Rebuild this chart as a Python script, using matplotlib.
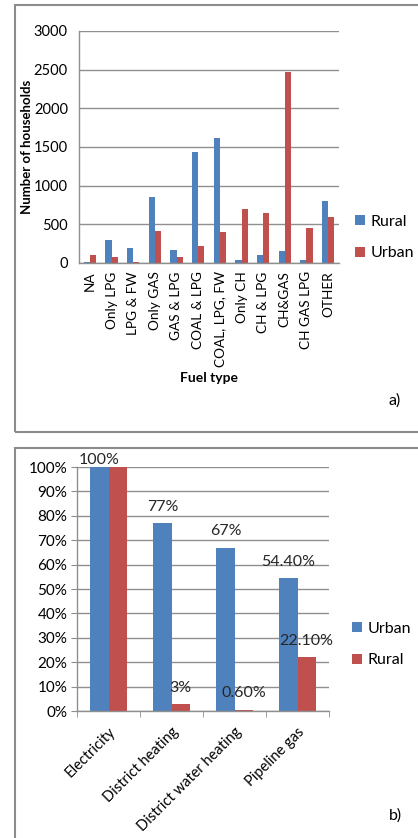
import numpy as np
import matplotlib.pyplot as plt
from matplotlib.patches import Rectangle
from matplotlib.ticker import FuncFormatter

# fuel use per household, panel a
fuel_types = ['NA', 'Only LPG', 'LPG & FW', 'Only GAS', 'GAS & LPG', 'COAL & LPG',
              'COAL, LPG, FW', 'Only CH', 'CH & LPG', 'CH&GAS', 'CH GAS LPG', 'OTHER']
rural_households = [17, 292, 193, 850, 172, 1435, 1619, 34, 103, 150, 43, 803]
urban_households = [103, 73, 13, 412, 82, 219, 399, 700, 644, 2470, 447, 597]

# access to energy services, panel b
services = ['Electricity', 'District heating', 'District water heating', 'Pipeline gas']
urban_share = [1.00, 0.77, 0.67, 0.544]
rural_share = [1.00, 0.03, 0.006, 0.221]
urban_text = ['100%', '77%', '67%', '54.40%']
rural_text = ['', '3%', '0.60%', '22.10%']

BLUE = '#4F81BD'
RED = '#C0504D'
GRID = '#8f8f8f'

plt.rcParams['font.family'] = ['Lato', 'DejaVu Sans']

W, H = 418, 838
fig = plt.figure(figsize=(W / 100, H / 100), dpi=100)


def px_axes(left, top, right, bottom):
    return fig.add_axes([left / W, 1 - bottom / H, (right - left) / W, (bottom - top) / H])


def panel_box(left, top, right, bottom):
    fig.patches.append(Rectangle((left / W, 1 - bottom / H), (right - left) / W, (bottom - top) / H,
                                 transform=fig.transFigure, fill=False,
                                 edgecolor='#8c8c8c', lw=1.5))


def style_axes(ax):
    for s in ['top', 'right']:
        ax.spines[s].set_visible(False)
    for s in ['left', 'bottom']:
        ax.spines[s].set_color(GRID)
        ax.spines[s].set_linewidth(1)
    ax.yaxis.grid(True, color=GRID, lw=1)
    ax.set_axisbelow(True)


panel_box(15, 5, 440, 432)
panel_box(15, 448, 440, 850)

bw = 0.286

# ---- panel a ----
ax1 = px_axes(79, 31, 339, 263)
x = np.arange(len(fuel_types))
b1 = ax1.bar(x - bw / 2, rural_households, bw, color=BLUE, label='Rural')
b2 = ax1.bar(x + bw / 2, urban_households, bw, color=RED, label='Urban')
style_axes(ax1)
ax1.set_xlim(-0.5, len(fuel_types) - 0.5)
ax1.set_ylim(0, 3000)
ax1.set_yticks(np.arange(0, 3001, 500))
ax1.set_xticks(x)
ax1.set_xticklabels(fuel_types, rotation=90, fontsize=9.8)
ax1.tick_params(axis='x', length=0, pad=6)
ax1.tick_params(axis='y', length=0, pad=8, labelsize=10.5)
ax1.set_ylabel('Number of households', fontsize=9.5, fontweight='bold')
ax1.yaxis.set_label_coords(-0.177, 0.5)
ax1.set_xlabel('Fuel type', fontsize=10, fontweight='bold', va='top')
ax1.xaxis.set_label_coords(0.5, -0.468)
ax1.legend(handles=[b1, b2], loc='center left', frameon=False, fontsize=11.5,
           bbox_to_anchor=(355 / W, 1 - 237.5 / H), bbox_transform=fig.transFigure,
           handlelength=0.6, handleheight=0.6, handletextpad=0.4, labelspacing=1.1,
           borderpad=0, borderaxespad=0)
fig.text(395 / W, 1 - 401 / H, 'a)', ha='center', va='center', fontsize=11.5)

# ---- panel b ----
ax2 = px_axes(77, 467, 329, 711)
xs = np.arange(len(services))
u = ax2.bar(xs - bw / 2, urban_share, bw, color=BLUE, label='Urban')
r = ax2.bar(xs + bw / 2, rural_share, bw, color=RED, label='Rural')
style_axes(ax2)
ax2.set_xlim(-0.5, len(services) - 0.5)
ax2.set_ylim(0, 1)
ax2.set_yticks(np.arange(0, 1.01, 0.1))
ax2.yaxis.set_major_formatter(FuncFormatter(lambda v, p: f'{v * 100:.0f}%'))
ax2.set_xticks(xs)
ax2.set_xticks(np.arange(-0.5, len(services), 1), minor=True)
ax2.set_xticklabels(services, rotation=45, ha='right', rotation_mode='anchor', fontsize=10.5)
ax2.tick_params(axis='x', which='major', length=0, pad=10)
ax2.tick_params(axis='x', which='minor', length=4, color=GRID)
ax2.tick_params(axis='y', length=4, color=GRID, pad=3, labelsize=11)

for i in range(len(services)):
    ax2.text(xs[i] - bw / 2, min(urban_share[i] + 0.066, 1.03), urban_text[i],
             ha='center', va='center', fontsize=11.5, color='#262626', clip_on=False)
    if rural_text[i]:
        ax2.text(xs[i] + bw / 2, min(rural_share[i] + 0.066, 1.03), rural_text[i],
                 ha='center', va='center', fontsize=11.5, color='#262626', clip_on=False)

ax2.legend(handles=[u, r], loc='center left', frameon=False, fontsize=11.5,
           bbox_to_anchor=(352 / W, 1 - 644.5 / H), bbox_transform=fig.transFigure,
           handlelength=0.6, handleheight=0.6, handletextpad=0.4, labelspacing=1.1,
           borderpad=0, borderaxespad=0)
fig.text(395 / W, 1 - 816 / H, 'b)', ha='center', va='center', fontsize=11.5)

fig.savefig('out.png', dpi=100)
